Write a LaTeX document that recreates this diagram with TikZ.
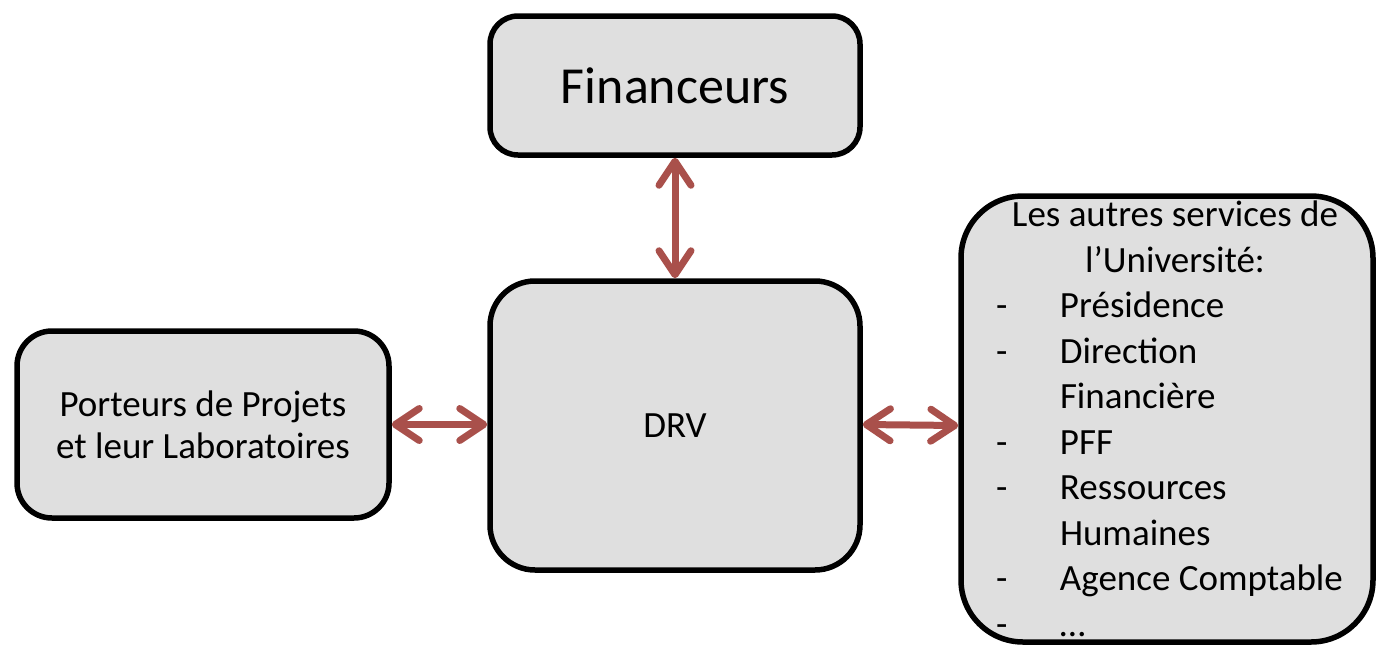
\documentclass[tikz,border=0pt]{standalone}
\usepackage{fontspec}
\setmainfont{Carlito}
\usetikzlibrary{arrows.meta}
\definecolor{boxgray}{HTML}{DFDFDF}
\definecolor{linkred}{HTML}{A9504B}
\begin{document}
\begin{tikzpicture}[x=1pt,y=-1pt,
  box/.style={draw,line width=5.5pt,fill=boxgray,inner sep=0pt,align=center},
  link/.style={linkred,line width=7pt,line cap=round,
    {Straight Barb[length=24pt,width=32pt,line cap=round,line join=round]}-{Straight Barb[length=24pt,width=32pt,line cap=round,line join=round]}}]
\useasboundingbox (0,0) rectangle (1377,646);
\node[box,rounded corners=28pt,minimum width=370pt,minimum height=139pt,
  font=\fontsize{52}{60}\selectfont] (fin) at (675,85.5) {Financeurs};
\node[box,rounded corners=45pt,minimum width=370pt,minimum height=289pt,
  font=\fontsize{37}{44}\selectfont] (drv) at (675,425.5) {DRV};
\node[box,rounded corners=35pt,minimum width=372pt,minimum height=187pt,
  font=\fontsize{37}{42}\selectfont] (porteurs) at (203,424.5) {Porteurs de Projets\\et leur Laboratoires};
\node[box,rounded corners=62pt,minimum width=412pt,minimum height=446pt,
  text width=412pt,align=flush left,font=\fontsize{37}{45.5}\selectfont] (univ) at (1167,419) {%
  \hspace*{16pt}\makebox[396pt]{Les autres services de}\\
  \hspace*{16pt}\makebox[396pt]{l’Université:}\\
  \hspace*{35pt}\makebox[64pt][l]{-}Présidence\\
  \hspace*{35pt}\makebox[64pt][l]{-}Direction\\
  \hspace*{99pt}Financière\\
  \hspace*{35pt}\makebox[64pt][l]{-}PFF\\
  \hspace*{35pt}\makebox[64pt][l]{-}Ressources\\
  \hspace*{99pt}Humaines\\
  \hspace*{35pt}\makebox[64pt][l]{-}Agence Comptable\\
  \hspace*{35pt}\makebox[64pt][l]{-}…};
\draw[link] (fin.south) -- (drv.north);
\draw[link] (porteurs.east) -- (porteurs.east -| drv.west);
\draw[link] (drv.east |- porteurs.east) -- (drv.east -| univ.west);
\end{tikzpicture}
\end{document}
